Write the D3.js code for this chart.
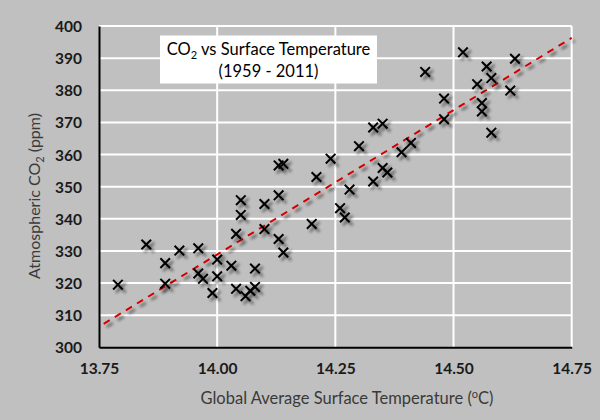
<!DOCTYPE html>
<html>
<head>
<meta charset="utf-8">
<script src="https://cdn.jsdelivr.net/npm/d3@7"></script>
<style>
  html, body { margin: 0; padding: 0; background: #c0c0c0; }
  svg { display: block; }
  text { font-family: Lato, "Open Sans", sans-serif; }
</style>
</head>
<body>
<script>
// ---- data ----
const temperature = [13.79,13.85,13.89,13.89,13.92,13.96,13.96,13.97,13.99,14.00,
  14.00,14.03,14.04,14.04,14.05,14.05,14.06,14.07,14.08,14.08,
  14.10,14.10,14.13,14.14,14.13,14.13,14.14,14.20,14.21,14.24,
  14.26,14.27,14.28,14.30,14.33,14.33,14.35,14.35,14.36,14.39,
  14.41,14.44,14.48,14.48,14.52,14.55,14.56,14.56,14.57,14.58,
  14.58,14.62,14.63];
const co2 = [319.5,332.0,326.2,319.8,330.1,330.8,323.0,321.3,316.9,327.3,
  322.1,325.4,335.3,318.2,341.2,345.8,315.9,317.6,318.8,324.5,
  336.8,344.6,333.7,329.5,347.3,356.6,357.1,338.4,353.0,358.7,
  343.3,340.4,349.1,362.6,351.6,368.4,369.6,355.8,354.4,360.7,
  363.6,385.7,377.4,371.0,391.8,381.9,376.0,373.4,387.4,383.8,
  366.8,379.9,389.8];
const trendX = [13.76, 14.75];
const trendY = [307.3, 396.3];
const xTicks = [13.75, 14.00, 14.25, 14.50, 14.75];
const yTicks = [300, 310, 320, 330, 340, 350, 360, 370, 380, 390, 400];

const W = 600, H = 420;
const M = { left: 99, right: 28.3, top: 26, bottom: 72.7 };

const svg = d3.select("body").append("svg").attr("width", W).attr("height", H);
svg.append("rect").attr("width", W).attr("height", H).attr("fill", "#c0c0c0");

const defs = svg.append("defs");
const f = defs.append("filter").attr("id", "shadow")
  .attr("x", "-50%").attr("y", "-50%").attr("width", "200%").attr("height", "200%");
f.append("feGaussianBlur").attr("in", "SourceAlpha").attr("stdDeviation", 1.4).attr("result", "b");
f.append("feOffset").attr("in", "b").attr("dx", 3).attr("dy", 3).attr("result", "o");
f.append("feComponentTransfer").attr("in", "o").attr("result", "o2")
  .append("feFuncA").attr("type", "linear").attr("slope", 0.6);
const fm = f.append("feMerge");
fm.append("feMergeNode").attr("in", "o2");
fm.append("feMergeNode").attr("in", "SourceGraphic");

const x = d3.scaleLinear().domain([13.75, 14.75]).range([M.left, W - M.right]);
const y = d3.scaleLinear().domain([300, 400]).range([H - M.bottom, M.top]);

// gridlines
const g = svg.append("g");
g.selectAll(".hg").data(yTicks.filter(d => d > 300)).enter().append("line")
  .attr("x1", M.left).attr("x2", x(14.75))
  .attr("y1", d => y(d)).attr("y2", d => y(d))
  .attr("stroke", "#ffffff").attr("stroke-width", 2);
g.selectAll(".vg").data(xTicks.filter(d => d > 13.75)).enter().append("line")
  .attr("y1", y(400)).attr("y2", y(300))
  .attr("x1", d => x(d)).attr("x2", d => x(d))
  .attr("stroke", "#ffffff").attr("stroke-width", 2);

// axes
const xAxis = d3.axisBottom(x).tickValues(xTicks).tickFormat(d3.format(".2f")).tickSize(0).tickPadding(16);
const yAxis = d3.axisLeft(y).tickValues(yTicks).tickFormat(d3.format("d")).tickSize(0).tickPadding(17);
const gx = svg.append("g").attr("transform", `translate(0,${y(300)})`).call(xAxis);
const gy = svg.append("g").attr("transform", `translate(${M.left},0)`).call(yAxis);
[gx, gy].forEach(a => {
  a.select(".domain").attr("stroke", "#000").attr("stroke-width", 2);
  a.selectAll("text").attr("font-size", 15.5).attr("font-weight", "bold").attr("fill", "#1a1a1a")
    .style("font-family", "Lato, sans-serif");
});
gy.selectAll("text").attr("dy", "0.36em");

// trend line
svg.append("line")
  .attr("x1", x(trendX[0])).attr("y1", y(trendY[0]))
  .attr("x2", x(trendX[1])).attr("y2", y(trendY[1]))
  .attr("stroke", "#d40000").attr("stroke-width", 2)
  .attr("stroke-dasharray", "7,6")
  .attr("filter", "url(#shadow)");

// markers
const pts = temperature.map((t, i) => [t, co2[i]]);
const r = 4.8;
const mk = svg.append("g").attr("filter", "url(#shadow)");
mk.selectAll("path").data(pts).enter().append("path")
  .attr("d", d => {
    const cx = x(d[0]), cy = y(d[1]);
    return `M${cx - r},${cy - r}L${cx + r},${cy + r}M${cx - r},${cy + r}L${cx + r},${cy - r}`;
  })
  .attr("stroke", "#000").attr("stroke-width", 2).attr("fill", "none");

// title box
svg.append("rect").attr("x", 160).attr("y", 35.5).attr("width", 217).attr("height", 48)
  .attr("fill", "#ffffff");
const t1 = svg.append("text").attr("x", 268.5).attr("y", 55).attr("text-anchor", "middle")
  .attr("font-size", 16.5).attr("fill", "#000");
t1.append("tspan").text("CO");
t1.append("tspan").attr("font-size", 11).attr("dy", 4).text("2");
t1.append("tspan").attr("dy", -4).text(" vs Surface Temperature");
svg.append("text").attr("x", 268.5).attr("y", 77).attr("text-anchor", "middle")
  .attr("font-size", 16.5).attr("fill", "#000").text("(1959 - 2011)");

// axis titles
const xt = svg.append("text").attr("x", 347).attr("y", 404).attr("text-anchor", "middle")
  .attr("font-size", 16.5).attr("fill", "#3a3a3a");
xt.append("tspan").text("Global Average Surface Temperature (");
xt.append("tspan").attr("font-size", 11).attr("dy", -6).text("o");
xt.append("tspan").attr("dy", 6).text("C)");

const yt = svg.append("text").attr("transform", "translate(40,196) rotate(-90)")
  .attr("text-anchor", "middle").attr("font-size", 16).attr("fill", "#3a3a3a");
yt.append("tspan").text("Atmospheric CO");
yt.append("tspan").attr("font-size", 11).attr("dy", 4).text("2");
yt.append("tspan").attr("dy", -4).text(" (ppm)");
</script>
</body>
</html>
